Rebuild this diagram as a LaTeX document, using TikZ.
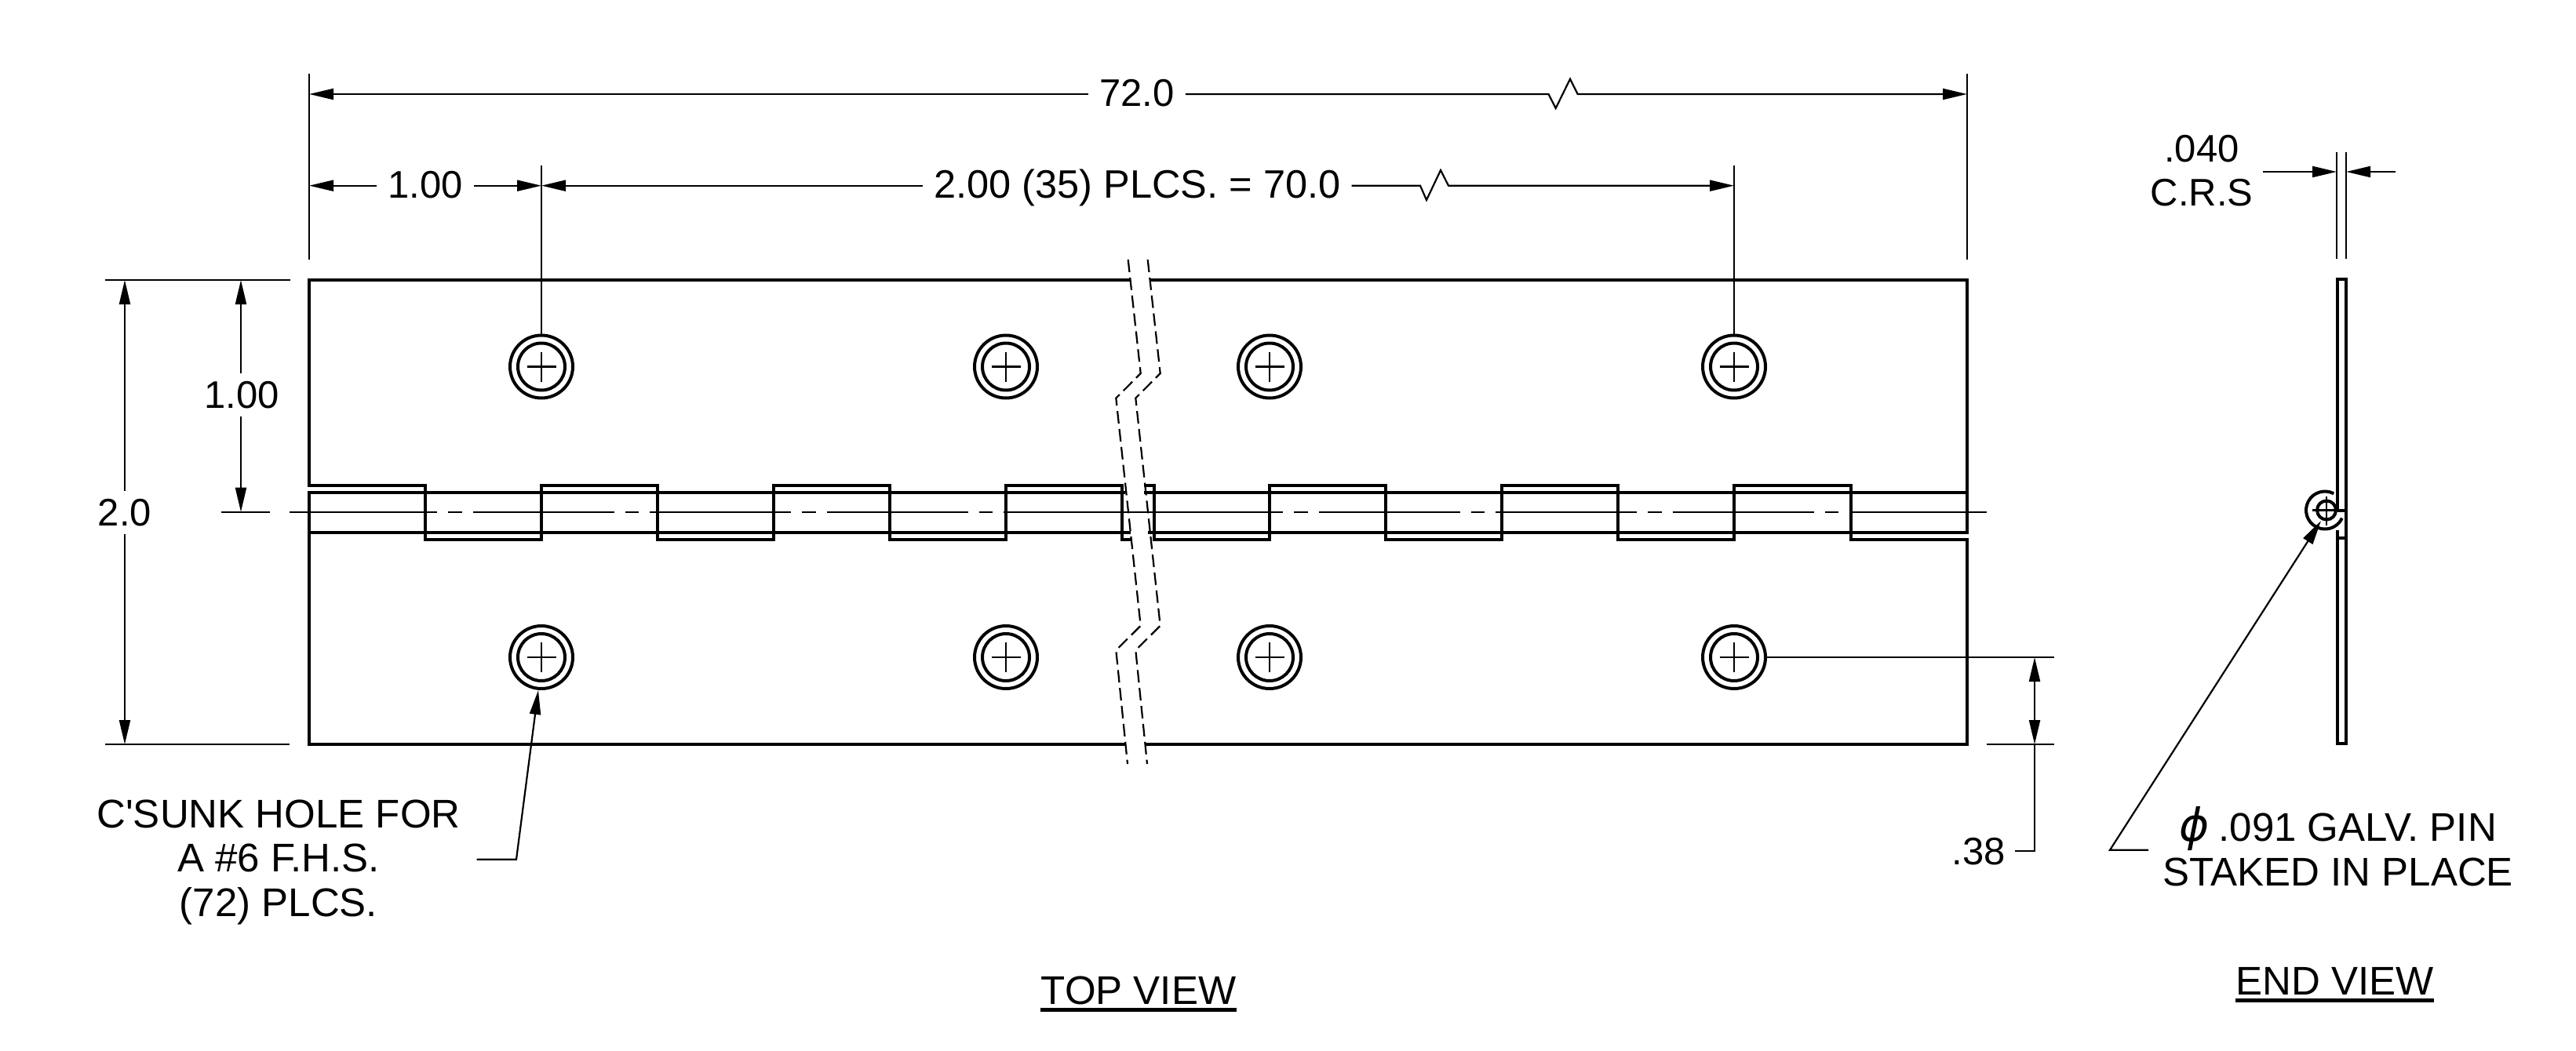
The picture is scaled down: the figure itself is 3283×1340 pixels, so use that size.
\documentclass[tikz,border=0pt]{standalone}
\usepackage{fontspec}
\setmainfont{Liberation Sans}
\newfontfamily\phifont{DejaVu Sans}
\usepackage{tikz}
\usetikzlibrary{positioning, arrows.meta}

\begin{document}
\begin{tikzpicture}[
    x=1pt,y=-1pt,
    >={Triangle[length=31pt,width=14pt]},
    edgeln/.style={draw,line width=4pt,line join=miter},
    thinln/.style={draw,line width=2.2pt},
    holeln/.style={draw,line width=4pt},
    breakln/.style={draw,line width=2.2pt,dash pattern=on 16pt off 7pt},
    centerln/.style={draw,line width=2.2pt,dash pattern=on 180pt off 14pt on 17.5pt off 14pt},
    dimlbl/.style={inner sep=14pt,anchor=base,font=\fontsize{49}{56}\selectfont},
    vdimlbl/.style={dimlbl,inner sep=10pt},
    notelbl/.style={inner sep=0pt,align=center,font=\fontsize{51}{56.5}\selectfont},
    ulin/.style={draw,line width=5pt}
    ]
    \useasboundingbox (0,0) rectangle (3283,1340);

    \coordinate (ltop) at (394,357);
    \coordinate (rtop) at (2507,357);

    \draw[edgeln] (1440,357) -- (ltop) -- (394,619) -- (542,619) -- (542,688) -- (690,688) -- (690,619)
        -- (838,619) -- (838,688) -- (986,688) -- (986,619) -- (1134,619) -- (1134,688)
        -- (1282,688) -- (1282,619) -- (1430,619) -- (1430,688) -- (1441,688);
    \draw[edgeln] (1434,628) -- (394,628) -- (394,949) -- (1435,949);
    \draw[edgeln] (394,679) -- (1441,679);
    \draw[edgeln] (1458,619) -- (1471,619) -- (1471,688) -- (1618,688) -- (1618,619) -- (1766,619)
        -- (1766,688) -- (1914,688) -- (1914,619) -- (2062,619) -- (2062,688) -- (2210,688)
        -- (2210,619) -- (2359,619) -- (2359,688) -- (2507,688) -- (2507,949) -- (1460,949);
    \draw[edgeln] (1466,357) -- (rtop) -- (2507,679) -- (1463,679);
    \draw[edgeln] (1458,628) -- (2507,628);

    \draw[thinln] (369,652.7) -- (380,652.7);
    \draw[centerln] (1459,652.7) -- (369,652.7);
    \draw[centerln] (1455,652.7) -- (2532,652.7);

    \foreach \bx in {0,25} {
        \draw[breakln,xshift=\bx] (1437.7,331) -- (1453.7,476) -- (1422.3,507.6)
            -- (1453.7,797.8) -- (1422.3,829) -- (1437,974);
    }

    \foreach \hx in {690,1282,1618,2210} {
        \foreach \hy/\hn in {467.5/t,838/b} {
            \coordinate (hole\hn\hx) at (\hx,\hy);
            \draw[holeln] (hole\hn\hx) circle[radius=40];
            \draw[holeln] (hole\hn\hx) circle[radius=30];
            \draw[thinln] (\hx-18.5,\hy) -- (\hx+18.5,\hy);
            \draw[thinln] (\hx,\hy-19) -- (\hx,\hy+19);
        }
    }

    % dimensions along the top
    \node [dimlbl] (len72) at (1449,136) {72.0};
    \node [dimlbl] (lenend) at (542,252.7) {1.00};
    \node [dimlbl,font=\fontsize{50.5}{56}\selectfont] (lenpitch) at (1449.5,252.7) {2.00 (35) PLCS. = 70.0};
    \coordinate (a72) at (394,120);
    \coordinate (b72) at (2507,120);
    \coordinate (a1) at (394,236.7);
    \coordinate (b1) at (690,236.7);
    \coordinate (b2) at (2210,236.7);
    \draw[thinln] (394,94) -- (394,331);
    \draw[thinln] (2507,94) -- (2507,331);
    \draw[thinln] (690,211) -- (690,427);
    \draw[thinln] (2210,211) -- (2210,427);
    \draw[thinln,->] (len72.west |- a72) -- (a72);
    \draw[thinln,->] (len72.east |- b72) -- (1973.5,120) -- (1982.7,138) -- (2001,100.7) -- (2010.7,120) -- (b72);
    \draw[thinln,->] (lenend.west |- a1) -- (a1);
    \draw[thinln,->] (lenend.east |- a1) -- (b1);
    \draw[thinln,->] (lenpitch.west |- a1) -- (b1);
    \draw[thinln,->] (lenpitch.east |- a1) -- (1810,236.7) -- (1818,255) -- (1836,217) -- (1846,236.7) -- (b2);

    % dimensions on the left
    \node [vdimlbl] (wid2) at (159,670) {2.0};
    \node [vdimlbl] (wid1) at (308,520) {1.00};
    \coordinate (c2) at (159,357);
    \coordinate (d2) at (159,949);
    \coordinate (c1) at (307,357);
    \coordinate (d1) at (307,652.7);
    \draw[thinln] (134,357) -- (370,357);
    \draw[thinln] (134,949) -- (369,949);
    \draw[thinln] (282,652.7) -- (344,652.7);
    \draw[thinln,->] (c2 |- wid2.north) -- (c2);
    \draw[thinln,->] (d2 |- wid2.south) -- (d2);
    \draw[thinln,->] (c1 |- wid1.north) -- (c1);
    \draw[thinln,->] (d1 |- wid1.south) -- (d1);

    % hole offset
    \node [dimlbl,inner sep=0pt] (off38) at (2521.5,1102) {.38};
    \coordinate (e38) at (2593,838);
    \coordinate (f38) at (2593,949);
    \coordinate (g38) at (2593,1085);
    \draw[thinln] (holeb2210) ++(41,0) -- (2618,838);
    \draw[thinln] (2532,949) -- (2618,949);
    \draw[thinln,->] (2593,893) -- (e38);
    \draw[thinln,->] (2593,893) -- (f38);
    \draw[thinln] (f38) -- (g38) -- (2568,1085);

    % hole note
    \node [notelbl] (holenote) at (355,1099) {C\textquotesingle SUNK HOLE FOR\\A \#6 F.H.S.\\(72) PLCS.};
    \draw[thinln,->] (607.6,1095.7) -- (658,1095.7) -- (686,880);

    % end view
    \coordinate (pin) at (2963,650.5);
    \draw[edgeln] (2978.5,651) -- (2978.5,355.5) -- (2990,355.5) -- (2990,948) -- (2978.5,948) -- (2978.5,676);
    \draw[edgeln] (2978.5,651) -- (2990,651);
    \draw[edgeln] (2978.5,686) -- (2990,686);
    \draw[holeln] (pin) ++(-62:24) arc[start angle=-62,end angle=-335,radius=24];
    \draw[holeln] (2965,650.5) circle[radius=12];
    \draw[thinln] (2947,650.5) -- (2978,650.5);
    \draw[thinln] (2965,633) -- (2965,670);
    \draw[thinln,->] (2738,1083.7) -- (2689,1083.7) -- (2958,664);

    % plate thickness
    \node [notelbl,font=\fontsize{49}{56}\selectfont] (thick) at (2806,218) {.040\\C.R.S};
    \coordinate (t1) at (2978,219);
    \coordinate (t2) at (2990,219);
    \draw[thinln] (2978,194) -- (2978,330);
    \draw[thinln] (2990,194) -- (2990,330);
    \draw[thinln,->] (2884,219) -- (t1);
    \draw[thinln,->] (3053,219) -- (t2);

    \node [notelbl] (pinnote) at (2979.5,1079) {{\phifont\itshape\fontsize{58}{56.5}\selectfont ϕ}\hspace{12pt}.091 GALV. PIN\\STAKED IN PLACE};

    \node [notelbl,anchor=base] (topview) at (1451,1280) {TOP VIEW};
    \node [notelbl,anchor=base] (endview) at (2975.5,1268) {END VIEW};
    \draw[ulin] (1326,1287.3) -- (1576,1287.3);
    \draw[ulin] (2849,1275) -- (3102,1275);
\end{tikzpicture}
\end{document}
